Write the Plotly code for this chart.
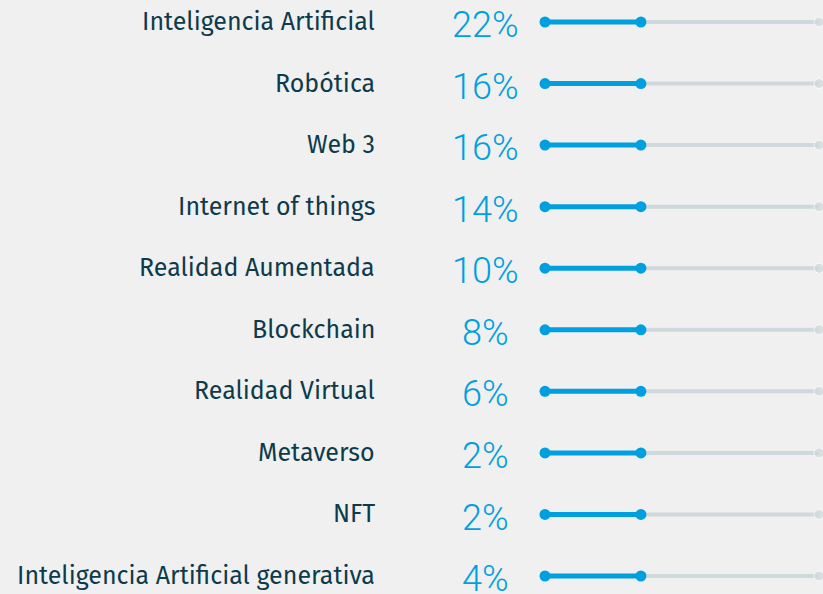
import plotly.graph_objects as go

categories = ["Inteligencia Artificial", "Robótica", "Web 3", "Internet of things",
              "Realidad Aumentada", "Blockchain", "Realidad Virtual", "Metaverso",
              "NFT", "Inteligencia Artificial generativa"]
percent_values = [22, 16, 16, 14, 10, 8, 6, 2, 2, 4]
# position of the blue progress marker on the 0-100 track (same for all rows in the source)
marker_level = [35, 35, 35, 35, 35, 35, 35, 35, 35, 35]
track_max = 100

W, H = 823, 594
BG = "#f0f0f0"
BLUE = "#009fe0"
GRAY = "#cfd8db"
LABEL = "#0e3b4c"

rows = list(range(len(categories)))
fig = go.Figure()

# gray track
for i in rows:
    fig.add_trace(go.Scatter(x=[marker_level[i], track_max], y=[i, i], mode="lines+markers",
                             line=dict(color=GRAY, width=4),
                             marker=dict(color=GRAY, size=[0, 10]),
                             hoverinfo="skip", showlegend=False, cliponaxis=False))
# blue progress
for i in rows:
    fig.add_trace(go.Scatter(x=[0, marker_level[i]], y=[i, i], mode="lines+markers",
                             line=dict(color=BLUE, width=5),
                             marker=dict(color=BLUE, size=11),
                             hoverinfo="skip", showlegend=False, cliponaxis=False))

# labels and percentages
for i, (c, v) in enumerate(zip(categories, percent_values)):
    fig.add_annotation(x=377 / W, xref="paper", y=i, yref="y", text=c, showarrow=False,
                       xanchor="right", yanchor="middle",
                       font=dict(family="Fira Sans, Lato, Noto Sans", size=25, color=LABEL, weight=400))
    fig.add_annotation(x=485 / W, xref="paper", y=i + 0.05, yref="y", text=f"{v}%", showarrow=False,
                       xanchor="center", yanchor="middle",
                       font=dict(family="Roboto", size=36, color=BLUE, weight=300))

px_per_row = (576 - 22) / 9
fig.update_layout(
    width=W, height=H, paper_bgcolor=BG, plot_bgcolor=BG,
    margin=dict(l=0, r=0, t=0, b=0),
    xaxis=dict(domain=[545 / W, 819 / W], range=[0, track_max], visible=False, fixedrange=True),
    yaxis=dict(range=[9 + (H - 576) / px_per_row, -22 / px_per_row], visible=False, fixedrange=True),
)

fig.write_html("out.html", config={"displayModeBar": False},
               post_script="document.body.style.margin='0';document.body.style.background='#f0f0f0';")
